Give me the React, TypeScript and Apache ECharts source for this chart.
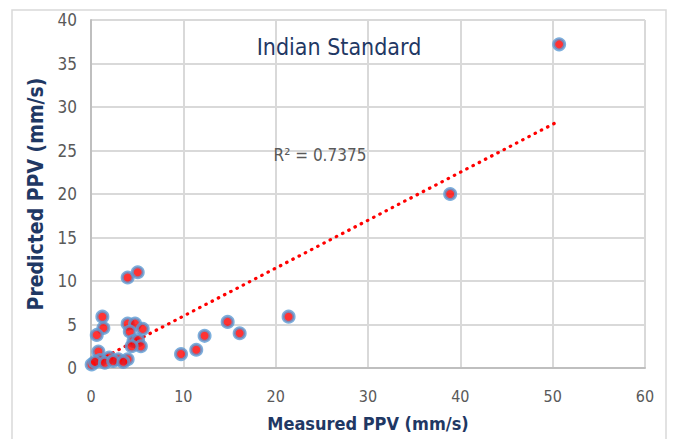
import React, { useEffect, useRef } from "react";
import * as echarts from "echarts";

const measured = [50.7, 38.9, 21.4, 16.1, 14.8, 12.3, 11.4, 9.75, 3.97, 5.06, 1.23, 1.34, 0.62, 0.8, 3.97, 4.77, 5.6, 4.2, 4.6, 5.1, 5.4, 4.4, 3.97, 2.96, 1.98, 0.98, 0.07, 0.43, 1.5, 2.4, 3.5];
const predicted = [37.2, 20.0, 5.9, 4.0, 5.3, 3.7, 2.1, 1.6, 10.4, 11.0, 5.9, 4.6, 3.8, 1.9, 5.1, 5.1, 4.5, 4.2, 3.1, 3.2, 2.5, 2.5, 1.0, 1.0, 1.2, 0.9, 0.4, 0.7, 0.6, 0.8, 0.7];
const trendX = [1.0, 50.7];
const trendY = [1.0, 28.4];
const titleText = "Indian Standard";
const r2Text = "R\u00B2 = 0.7375";
const xName = "Measured PPV (mm/s)";
const yName = "Predicted PPV (mm/s)";

const FONT = "'DejaVu Sans Condensed', 'Liberation Sans Narrow', 'Open Sans', sans-serif";
const NAVY = "#1F3864";
const GRAY = "#595959";

export default function App() {
  const ref = useRef<HTMLDivElement>(null);
  useEffect(() => {
    if (!ref.current) return;
    const chart = echarts.init(ref.current, null, { renderer: "svg" });
    chart.setOption({
      animation: false,
      backgroundColor: "#ffffff",
      grid: { left: 91, right: 30, top: 20, bottom: 71 },
      xAxis: {
        type: "value",
        min: 0,
        max: 60,
        interval: 10,
        name: xName,
        nameLocation: "middle",
        nameGap: 46,
        nameTextStyle: { color: NAVY, fontSize: 18, fontWeight: "bold", fontFamily: FONT },
        axisLine: { show: true, lineStyle: { color: "#bfbfbf", width: 2 } },
        axisTick: { show: false },
        axisLabel: { color: GRAY, fontSize: 16, fontFamily: FONT, margin: 20 },
        splitLine: { show: true, lineStyle: { color: "#d9d9d9", width: 2 } },
      },
      yAxis: {
        type: "value",
        min: 0,
        max: 40,
        interval: 5,
        name: yName,
        nameLocation: "middle",
        nameGap: 45,
        nameTextStyle: { color: NAVY, fontSize: 21, fontWeight: "bold", fontFamily: FONT },
        axisLine: { show: true, lineStyle: { color: "#bfbfbf", width: 2 } },
        axisTick: { show: false },
        axisLabel: { color: GRAY, fontSize: 17, fontFamily: FONT, margin: 14 },
        splitLine: { show: true, lineStyle: { color: "#d9d9d9", width: 2 } },
      },
      series: [
        {
          type: "line",
          data: trendX.map((x, i) => [x, trendY[i]]),
          symbol: "none",
          lineStyle: { color: "#ff0000", width: 3.2, type: [0.5, 6.5], cap: "round" },
          z: 1,
        },
        {
          type: "scatter",
          data: measured.map((x, i) => [x, predicted[i]]),
          symbolSize: 11,
          itemStyle: { color: "#ff0000", borderColor: "#5b9bd5", borderWidth: 3 },
          z: 3,
        },
      ],
      graphic: [
        {
          type: "rect",
          shape: { x: 12, y: 10, width: 654, height: 432 },
          style: { fill: "none", stroke: "#d9d9d9", lineWidth: 1.5 },
          silent: true,
        },
        {
          type: "text",
          x: 339,
          y: 47,
          style: { text: titleText, fill: NAVY, fontSize: 23, fontFamily: FONT, align: "center", verticalAlign: "middle" },
          z: 10,
        },
        {
          type: "text",
          x: 320,
          y: 155,
          style: { text: r2Text, fill: GRAY, fontSize: 17, fontFamily: FONT, align: "center", verticalAlign: "middle" },
          z: 10,
        },
      ],
    });
    return () => chart.dispose();
  }, []);
  return <div ref={ref} style={{ position: "fixed", left: 0, top: 0, width: 675, height: 439 }} />;
}
